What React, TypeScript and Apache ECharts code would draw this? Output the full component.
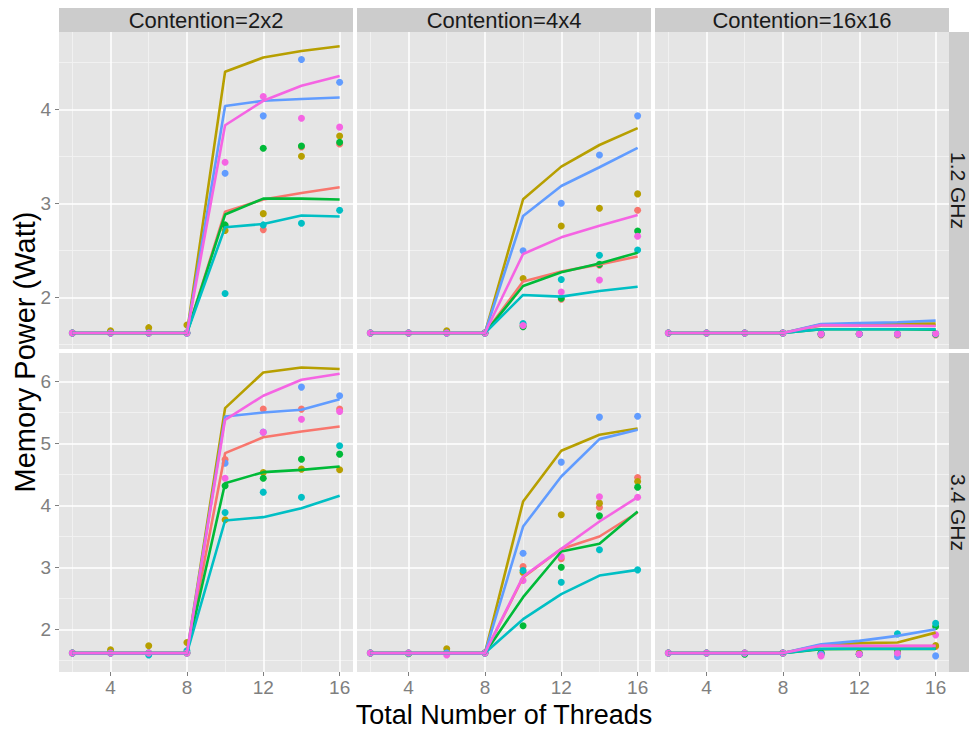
import React, { useEffect, useRef } from "react";
import * as echarts from "echarts";

// ---------- data ----------
const threads = [2, 4, 6, 8, 10, 12, 14, 16];
const seriesNames = ["Series 1", "Series 2", "Series 3", "Series 4", "Series 5", "Series 6"];
const seriesColors = ["#F8766D", "#B79F00", "#00BA38", "#00BFC4", "#619CFF", "#F564E3"];
const contentions = ["Contention=2x2", "Contention=4x4", "Contention=16x16"];
const frequencies = ["1.2 GHz", "3.4 GHz"];
const xTicks = [4, 8, 12, 16];
const xMinor = [2, 6, 10, 14];
const yTicksTop = [2, 3, 4];
const yMinorTop = [1.5, 2.5, 3.5, 4.5];
const yTicksBottom = [2, 3, 4, 5, 6];
const yMinorBottom = [1.5, 2.5, 3.5, 4.5, 5.5];

// model fit lines (rows: series 1..6, columns: threads)
const fit12_2x2 = [
  [1.62, 1.62, 1.62, 1.62, 2.91, 3.04, 3.11, 3.17],
  [1.62, 1.62, 1.62, 1.62, 4.40, 4.55, 4.62, 4.67],
  [1.62, 1.62, 1.62, 1.62, 2.88, 3.05, 3.05, 3.04],
  [1.62, 1.62, 1.62, 1.62, 2.745, 2.78, 2.87, 2.86],
  [1.62, 1.62, 1.62, 1.62, 4.035, 4.09, 4.11, 4.125],
  [1.62, 1.62, 1.62, 1.62, 3.83, 4.09, 4.25, 4.355],
];
const obs12_2x2 = [
  [1.62, 1.62, 1.62, 1.62, 2.76, 2.72, 3.60, 3.63],
  [1.62, 1.645, 1.677, 1.706, 2.71, 2.89, 3.50, 3.716],
  [1.62, 1.62, 1.62, 1.62, 2.77, 3.585, 3.61, 3.65],
  [1.62, 1.62, 1.62, 1.62, 2.04, 2.77, 2.787, 2.925],
  [1.62, 1.62, 1.62, 1.62, 3.32, 3.93, 4.53, 4.287],
  [1.62, 1.62, 1.62, 1.62, 3.436, 4.135, 3.904, 3.81],
];
const fit12_4x4 = [
  [1.62, 1.62, 1.62, 1.62, 2.167, 2.273, 2.35, 2.433],
  [1.62, 1.62, 1.62, 1.62, 3.043, 3.39, 3.62, 3.80],
  [1.62, 1.62, 1.62, 1.62, 2.12, 2.266, 2.36, 2.475],
  [1.62, 1.62, 1.62, 1.62, 2.025, 2.007, 2.067, 2.113],
  [1.62, 1.62, 1.62, 1.62, 2.865, 3.184, 3.383, 3.59],
  [1.62, 1.62, 1.62, 1.62, 2.46, 2.638, 2.76, 2.876],
];
const obs12_4x4 = [
  [1.62, 1.62, 1.62, 1.62, 1.70, 1.98, 2.34, 2.926],
  [1.62, 1.62, 1.645, 1.62, 2.20, 2.759, 2.947, 3.10],
  [1.62, 1.62, 1.62, 1.62, 1.688, 1.99, 2.35, 2.706],
  [1.62, 1.62, 1.62, 1.62, 1.72, 2.19, 2.447, 2.504],
  [1.62, 1.62, 1.62, 1.62, 2.496, 3.0, 3.514, 3.93],
  [1.62, 1.62, 1.62, 1.62, 1.70, 2.057, 2.184, 2.649],
];
const fit12_16x16 = [
  [1.62, 1.62, 1.62, 1.62, 1.70, 1.70, 1.70, 1.70],
  [1.62, 1.62, 1.62, 1.62, 1.71, 1.715, 1.72, 1.72],
  [1.62, 1.62, 1.62, 1.62, 1.66, 1.66, 1.66, 1.655],
  [1.62, 1.62, 1.62, 1.62, 1.66, 1.66, 1.66, 1.66],
  [1.62, 1.62, 1.62, 1.62, 1.715, 1.725, 1.735, 1.752],
  [1.62, 1.62, 1.62, 1.62, 1.706, 1.70, 1.70, 1.695],
];
const obs12_16x16 = [
  [1.62, 1.62, 1.62, 1.62, 1.60, 1.61, 1.60, 1.60],
  [1.62, 1.62, 1.62, 1.62, 1.61, 1.61, 1.61, 1.61],
  [1.62, 1.62, 1.62, 1.62, 1.61, 1.61, 1.61, 1.61],
  [1.62, 1.62, 1.62, 1.62, 1.61, 1.61, 1.61, 1.61],
  [1.62, 1.62, 1.62, 1.62, 1.61, 1.61, 1.61, 1.615],
  [1.62, 1.62, 1.62, 1.62, 1.61, 1.61, 1.61, 1.615],
];
const fit34_2x2 = [
  [1.62, 1.62, 1.62, 1.62, 4.844, 5.10, 5.194, 5.274],
  [1.62, 1.62, 1.62, 1.62, 5.57, 6.145, 6.226, 6.20],
  [1.62, 1.62, 1.62, 1.62, 4.36, 4.538, 4.575, 4.629],
  [1.62, 1.62, 1.62, 1.62, 3.758, 3.812, 3.957, 4.156],
  [1.62, 1.62, 1.62, 1.62, 5.435, 5.50, 5.543, 5.715],
  [1.62, 1.62, 1.62, 1.62, 5.38, 5.77, 6.027, 6.124],
];
const obs34_2x2 = [
  [1.62, 1.62, 1.62, 1.62, 4.74, 5.554, 5.554, 5.554],
  [1.62, 1.672, 1.737, 1.79, 3.77, 4.532, 4.586, 4.575],
  [1.62, 1.62, 1.62, 1.62, 4.317, 4.44, 4.747, 4.828],
  [1.62, 1.62, 1.59, 1.656, 3.887, 4.215, 4.134, 4.962],
  [1.62, 1.62, 1.62, 1.62, 4.683, 5.183, 5.909, 5.769],
  [1.62, 1.62, 1.62, 1.62, 4.44, 5.18, 5.392, 5.516],
];
const fit34_4x4 = [
  [1.62, 1.62, 1.62, 1.62, 2.84, 3.30, 3.50, 3.887],
  [1.62, 1.62, 1.62, 1.62, 4.065, 4.882, 5.14, 5.242],
  [1.62, 1.62, 1.62, 1.62, 2.522, 3.258, 3.382, 3.903],
  [1.62, 1.62, 1.62, 1.62, 2.167, 2.57, 2.87, 2.962],
  [1.62, 1.62, 1.62, 1.62, 3.661, 4.468, 5.07, 5.22],
  [1.62, 1.62, 1.62, 1.62, 2.855, 3.30, 3.742, 4.134],
];
const obs34_4x4 = [
  [1.62, 1.62, 1.62, 1.62, 3.016, 3.14, 3.973, 4.452],
  [1.62, 1.62, 1.688, 1.62, 2.92, 3.85, 4.038, 4.387],
  [1.62, 1.61, 1.62, 1.62, 2.06, 3.005, 3.833, 4.296],
  [1.62, 1.62, 1.62, 1.62, 2.952, 2.763, 3.285, 2.962],
  [1.62, 1.62, 1.62, 1.62, 3.23, 4.699, 5.425, 5.44],
  [1.62, 1.62, 1.59, 1.62, 2.79, 3.177, 4.14, 4.134],
];
const fit34_16x16 = [
  [1.62, 1.62, 1.62, 1.62, 1.735, 1.735, 1.735, 1.735],
  [1.62, 1.62, 1.62, 1.62, 1.75, 1.78, 1.79, 1.95],
  [1.62, 1.62, 1.62, 1.62, 1.683, 1.688, 1.688, 1.688],
  [1.62, 1.62, 1.62, 1.62, 1.69, 1.69, 1.69, 1.69],
  [1.62, 1.62, 1.62, 1.62, 1.763, 1.817, 1.898, 2.005],
  [1.62, 1.62, 1.62, 1.62, 1.742, 1.737, 1.737, 1.737],
];
const obs34_16x16 = [
  [1.62, 1.62, 1.62, 1.62, 1.60, 1.60, 1.62, 1.726],
  [1.62, 1.62, 1.62, 1.62, 1.62, 1.62, 1.64, 1.74],
  [1.62, 1.62, 1.60, 1.62, 1.62, 1.60, 1.634, 2.05],
  [1.62, 1.62, 1.62, 1.62, 1.61, 1.60, 1.93, 2.10],
  [1.62, 1.62, 1.62, 1.62, 1.60, 1.60, 1.565, 1.575],
  [1.62, 1.62, 1.62, 1.62, 1.575, 1.60, 1.62, 1.914],
];

// ---------- layout ----------
const FONT = "'Liberation Sans', Arial, Helvetica, sans-serif";
const PANEL_LEFT = [59, 357, 655];
const PANEL_W = 294;
const PANEL_TOP = [32, 353];
const PANEL_H = [317, 319];
const X_RANGE = [1.3, 16.7];
const Y_RANGE = [
  [1.45, 4.822],
  [1.315, 6.459],
];
const AXIS_GREY = "#7F7F7F";

const panels = [
  { row: 0, col: 0, fit: fit12_2x2, obs: obs12_2x2 },
  { row: 0, col: 1, fit: fit12_4x4, obs: obs12_4x4 },
  { row: 0, col: 2, fit: fit12_16x16, obs: obs12_16x16 },
  { row: 1, col: 0, fit: fit34_2x2, obs: obs34_2x2 },
  { row: 1, col: 1, fit: fit34_4x4, obs: obs34_4x4 },
  { row: 1, col: 2, fit: fit34_16x16, obs: obs34_16x16 },
];

function buildOption() {
  const grid: any[] = [];
  const xAxis: any[] = [];
  const yAxis: any[] = [];
  const series: any[] = [];

  panels.forEach((p, i) => {
    const yTicks = p.row === 0 ? yTicksTop : yTicksBottom;
    const yMinor = p.row === 0 ? yMinorTop : yMinorBottom;
    grid.push({
      left: PANEL_LEFT[p.col],
      top: PANEL_TOP[p.row],
      width: PANEL_W,
      height: PANEL_H[p.row],
      show: true,
      backgroundColor: "#E5E5E5",
      borderWidth: 0,
    });
    xAxis.push({
      gridIndex: i,
      type: "value",
      min: X_RANGE[0],
      max: X_RANGE[1],
      axisLine: { show: false },
      splitLine: { show: false },
      axisTick: {
        show: p.row === 1,
        customValues: xTicks,
        length: 4,
        lineStyle: { color: AXIS_GREY, width: 1 },
      },
      axisLabel: {
        show: p.row === 1,
        customValues: xTicks,
        color: AXIS_GREY,
        fontSize: 19,
        fontFamily: FONT,
        margin: 6,
      },
    });
    yAxis.push({
      gridIndex: i,
      type: "value",
      min: Y_RANGE[p.row][0],
      max: Y_RANGE[p.row][1],
      axisLine: { show: false },
      splitLine: { show: false },
      axisTick: {
        show: p.col === 0,
        customValues: yTicks,
        length: 4,
        lineStyle: { color: AXIS_GREY, width: 1 },
      },
      axisLabel: {
        show: p.col === 0,
        customValues: yTicks,
        color: AXIS_GREY,
        fontSize: 19,
        fontFamily: FONT,
        margin: 8,
      },
    });

    // grid lines (ggplot style: white majors, light minors)
    const minorStyle = { color: "#F2F2F2", width: 0.9, type: "solid" };
    const majorStyle = { color: "#FFFFFF", width: 1.5, type: "solid" };
    series.push({
      type: "line",
      xAxisIndex: i,
      yAxisIndex: i,
      data: [],
      silent: true,
      z: 1,
      showSymbol: false,
      markLine: {
        z: 1,
        silent: true,
        symbol: "none",
        animation: false,
        label: { show: false },
        emphasis: { disabled: true },
        data: [
          ...xMinor.map((v) => ({ xAxis: v, lineStyle: minorStyle })),
          ...yMinor.map((v) => ({ yAxis: v, lineStyle: minorStyle })),
          ...xTicks.map((v) => ({ xAxis: v, lineStyle: majorStyle })),
          ...yTicks.map((v) => ({ yAxis: v, lineStyle: majorStyle })),
        ],
      },
    });

    seriesNames.forEach((name, s) => {
      series.push({
        name,
        type: "scatter",
        xAxisIndex: i,
        yAxisIndex: i,
        data: threads.map((t, k) => [t, p.obs[s][k]]),
        symbolSize: 7,
        itemStyle: { color: seriesColors[s], opacity: 1 },
        silent: true,
        z: 2,
      });
    });
    seriesNames.forEach((name, s) => {
      series.push({
        name,
        type: "line",
        xAxisIndex: i,
        yAxisIndex: i,
        data: threads.map((t, k) => [t, p.fit[s][k]]),
        showSymbol: false,
        symbol: "none",
        lineStyle: { color: seriesColors[s], width: 2.6 },
        itemStyle: { color: seriesColors[s] },
        silent: true,
        z: 3,
      });
    });
  });

  const graphic: any[] = [];
  contentions.forEach((label, c) => {
    graphic.push({
      type: "rect",
      shape: { x: PANEL_LEFT[c], y: 8, width: PANEL_W, height: 24 },
      style: { fill: "#CCCCCC" },
      silent: true,
    });
    graphic.push({
      type: "text",
      x: PANEL_LEFT[c] + PANEL_W / 2,
      y: 20,
      style: {
        text: label,
        fill: "#1A1A1A",
        font: `22px ${FONT}`,
        textAlign: "center",
        textVerticalAlign: "middle",
      },
      silent: true,
    });
  });
  frequencies.forEach((label, r) => {
    graphic.push({
      type: "rect",
      shape: { x: 949, y: PANEL_TOP[r], width: 20, height: PANEL_H[r] },
      style: { fill: "#CCCCCC" },
      silent: true,
    });
    graphic.push({
      type: "text",
      x: 958,
      y: PANEL_TOP[r] + PANEL_H[r] / 2,
      rotation: -Math.PI / 2,
      style: {
        text: label,
        fill: "#1A1A1A",
        font: `21px ${FONT}`,
        textAlign: "center",
        textVerticalAlign: "middle",
      },
      silent: true,
    });
  });
  graphic.push({
    type: "text",
    x: 25,
    y: 352,
    rotation: Math.PI / 2,
    style: {
      text: "Memory Power (Watt)",
      fill: "#000000",
      font: `29px ${FONT}`,
      textAlign: "center",
      textVerticalAlign: "middle",
    },
    silent: true,
  });
  graphic.push({
    type: "text",
    x: 504,
    y: 715,
    style: {
      text: "Total Number of Threads",
      fill: "#000000",
      font: `27px ${FONT}`,
      textAlign: "center",
      textVerticalAlign: "middle",
    },
    silent: true,
  });

  return {
    animation: false,
    backgroundColor: "#FFFFFF",
    grid,
    xAxis,
    yAxis,
    series,
    graphic,
  };
}

export default function App() {
  const ref = useRef<HTMLDivElement>(null);
  useEffect(() => {
    if (!ref.current) return;
    const chart = echarts.init(ref.current, undefined, { renderer: "svg" });
    chart.setOption(buildOption() as any);
    return () => chart.dispose();
  }, []);
  return (
    <div
      ref={ref}
      style={{ position: "absolute", left: 0, top: 0, width: 969, height: 731 }}
    />
  );
}
